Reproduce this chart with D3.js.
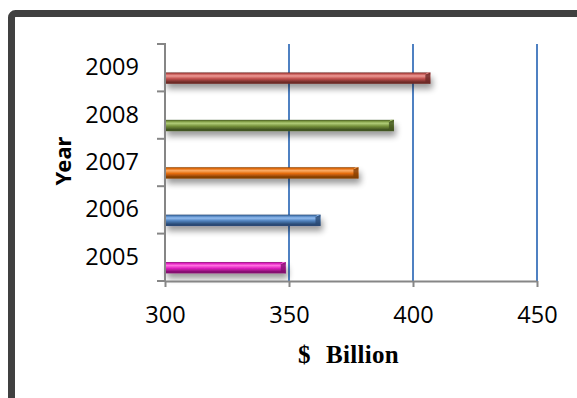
<!DOCTYPE html>
<html><head><meta charset="utf-8">
<script src="https://cdn.jsdelivr.net/npm/d3@7"></script>
<style>html,body{margin:0;padding:0;background:#fff;overflow:hidden}</style>
</head><body>
<script>
const years = ["2009","2008","2007","2006","2005"];
const values = [407, 392.3, 378, 362.7, 348.7];
const xTicks = [300, 350, 400, 450];
const barBase = ["#c0504d","#77933c","#e46c0a","#4f81bd","#e020c0"];
const barLight = ["#ee9a96","#b0cc78","#fbac68","#93bdf0","#ff70e0"];
const barDark = ["#6e2a28","#435520","#853f05","#2a4a74","#85106f"];

const W = 577, H = 398;
const svg = d3.select("body").append("svg").attr("width", W).attr("height", H);
const defs = svg.append("defs");

// frame
svg.append("rect").attr("x", 11.5).attr("y", 13.5).attr("width", 700).attr("height", 500)
  .attr("rx", 4).attr("fill", "#fff").attr("stroke", "#404040").attr("stroke-width", 7);

const x = d3.scaleLinear().domain([300, 450]).range([165, 537]);
const y = d3.scaleBand().domain(years).range([44, 281]);

// gridlines
svg.append("g").selectAll("line").data(xTicks.slice(1)).join("line")
  .attr("x1", d => x(d)).attr("x2", d => x(d)).attr("y1", 44).attr("y2", 281)
  .attr("stroke", "#4f81c2").attr("stroke-width", 2);

// shadow filter
const f = defs.append("filter").attr("id", "sh").attr("x", "-10%").attr("y", "-50%").attr("width", "130%").attr("height", "250%");
f.append("feGaussianBlur").attr("in", "SourceAlpha").attr("stdDeviation", 3).attr("result", "b");
f.append("feOffset").attr("in", "b").attr("dx", 2).attr("dy", 5).attr("result", "o");
f.append("feComponentTransfer").attr("in", "o").attr("result", "o2")
  .append("feFuncA").attr("type", "linear").attr("slope", 0.4);
const m = f.append("feMerge");
m.append("feMergeNode").attr("in", "o2");
m.append("feMergeNode").attr("in", "SourceGraphic");

years.forEach((yr, i) => {
  const g = defs.append("linearGradient").attr("id", "g" + i).attr("x1", 0).attr("y1", 0).attr("x2", 0).attr("y2", 1);
  g.append("stop").attr("offset", 0).attr("stop-color", barDark[i]);
  g.append("stop").attr("offset", 0.12).attr("stop-color", barBase[i]);
  g.append("stop").attr("offset", 0.3).attr("stop-color", barLight[i]);
  g.append("stop").attr("offset", 0.55).attr("stop-color", barBase[i]);
  g.append("stop").attr("offset", 0.85).attr("stop-color", barDark[i]);
  g.append("stop").attr("offset", 1).attr("stop-color", barDark[i]);
});

const bh = y.bandwidth() * 0.24;
const bars = svg.append("g").selectAll("g").data(years).join("g").attr("filter", "url(#sh)");
bars.append("rect")
  .attr("x", x(300)).attr("y", d => y(d) + y.bandwidth() * 0.6)
  .attr("width", (d, i) => x(values[i]) - x(300)).attr("height", bh)
  .attr("fill", (d, i) => `url(#g${i})`);
// right-end bevel
bars.append("path")
  .attr("d", (d, i) => {
    const xe = x(values[i]), y0 = y(d) + y.bandwidth() * 0.6;
    return `M${xe - 5},${y0 + 2} L${xe},${y0} L${xe},${y0 + bh} L${xe - 5},${y0 + bh - 2} Z`;
  })
  .attr("fill", (d, i) => barDark[i]).attr("opacity", 0.8);
bars.append("path")
  .attr("d", (d, i) => {
    const xe = x(values[i]), y0 = y(d) + y.bandwidth() * 0.6;
    return `M${xe - 5},${y0 + 2} L${xe},${y0} L${xe - 3},${y0} Z`;
  })
  .attr("fill", (d, i) => barLight[i]);

// axes
const axisColor = "#868686";
const xa = svg.append("g").attr("transform", "translate(0,281)")
  .call(d3.axisBottom(x).tickValues(xTicks).tickSize(6).tickPadding(5).tickSizeOuter(0));
xa.select(".domain").attr("stroke", axisColor).attr("stroke-width", 2);
xa.selectAll(".tick line").attr("stroke", axisColor).attr("stroke-width", 2);
xa.selectAll(".tick text").attr("font-family", "Open Sans, sans-serif").attr("font-size", 23.5)
  .attr("fill", "#000").attr("dy", null).attr("y", 42);

const ya = svg.append("g").attr("transform", "translate(165,0)")
  .call(d3.axisLeft(y).tickSize(0).tickPadding(26));
ya.select(".domain").remove();
ya.selectAll(".tick text").attr("font-family", "Open Sans, sans-serif").attr("font-size", 23.5).attr("fill", "#000");
// category boundary ticks
const bounds = years.map(d => y(d)).concat([y.range()[1]]);
svg.append("g").selectAll("line").data(bounds).join("line")
  .attr("x1", 157).attr("x2", 165).attr("y1", d => d).attr("y2", d => d)
  .attr("stroke", axisColor).attr("stroke-width", 2);
svg.append("line").attr("x1", 165).attr("x2", 165).attr("y1", 43).attr("y2", 282)
  .attr("stroke", axisColor).attr("stroke-width", 2);

// axis titles
svg.append("text").attr("transform", "translate(71,161) rotate(-90)").attr("text-anchor", "middle")
  .attr("font-family", "Noto Sans, sans-serif").attr("font-weight", 700).attr("font-size", 22).text("Year");
const t = svg.append("text").attr("y", 363)
  .attr("font-family", "Liberation Serif, serif").attr("font-weight", "bold").attr("font-size", 25);
t.append("tspan").attr("x", 298).text("$");
t.append("tspan").attr("x", 326).attr("letter-spacing", 0.3).text("Billion");
</script>
</body></html>
